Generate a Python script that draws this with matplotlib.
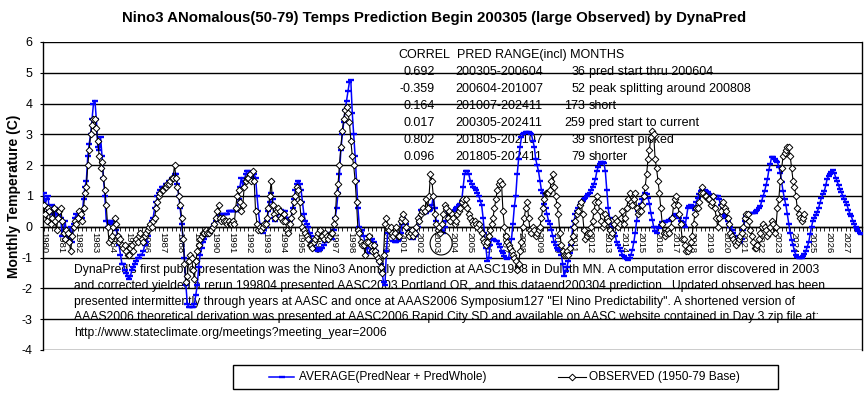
import numpy as np
import matplotlib
matplotlib.use("Agg")
import matplotlib.pyplot as plt
from matplotlib.lines import Line2D
from matplotlib.patches import Rectangle, Ellipse

plt.rcParams['font.family'] = ['Liberation Sans', 'DejaVu Sans']

# ---------------- data (monthly, starting Jan 1980) ----------------
year_labels = [str(y) for y in range(1980, 2028)]

pred_1980s = [
    1.1, 0.7, 0.9, 1.0, 0.5, 0.4, 0.7, 0.3, 0.6, 0.2, 0.4, 0.5,
    0.3, -0.3, -0.1, 0.2, -0.2, -0.4, -0.3, 0.0, -0.5, 0.1, 0.3, 0.4,
    0.3, 0.4, 0.5, 0.3, 0.9, 1.3, 1.5, 2.3, 2.7, 3.0, 3.5, 4.0,
    4.1, 3.5, 2.6, 2.5, 2.9, 2.3, 1.6, 1.0, 0.2, 0.0, 0.2, 0.1,
    0.2, 0.0, 0.1, -0.1, -0.3, -0.6, -0.9, -1.2, -1.2, -1.4, -1.5, -1.6,
    -1.7, -1.6, -1.4, -1.3, -1.2, -1.1, -1.0, -1.0, -0.9, -0.9, -0.8, -0.6,
    -0.5, -0.3, -0.1, 0.0, 0.2, 0.3, 0.6, 0.8, 1.0, 1.1, 1.2, 1.3,
    1.3, 1.3, 1.4, 1.4, 1.5, 1.5, 1.6, 1.6, 1.7, 1.7, 1.4, 1.0,
    0.6, 0.1, -0.4, -1.0, -1.9, -2.5, -2.6, -2.6, -2.6, -2.6, -2.5, -2.2,
    -1.9, -1.3, -0.9, -0.7, -0.5, -0.4, -0.3, -0.25, -0.2, -0.2, -0.1, 0.0,
]
pred_1990s = [
    0.1, 0.2, 0.3, 0.4, 0.4, 0.3, 0.4, 0.4, 0.4, 0.4, 0.5, 0.5,
    0.5, 0.5, 0.5, 0.5, 0.5, 0.9, 1.3, 1.6, 1.3, 1.5, 1.7, 1.8,
    1.8, 1.7, 1.7, 1.6, 1.7, 1.6, 1.0, 0.5, 0.1, -0.1, -0.2, -0.1,
    0.0, 0.2, 0.5, 0.8, 1.1, 0.9, 0.3, 0.2, 0.3, 0.4, 0.5, 0.55,
    0.5, 0.4, 0.5, 0.3, 0.2, 0.2, 0.3, 0.6, 0.9, 1.2, 1.4, 1.5,
    1.4, 1.2, 0.8, 0.4, 0.2, 0.1, 0.0, -0.2, -0.3, -0.5, -0.6, -0.7,
    -0.75, -0.8, -0.75, -0.7, -0.7, -0.6, -0.5, -0.3, -0.2, -0.3, -0.3, -0.4,
    -0.1, 0.3, 0.6, 1.1, 1.7, 2.5, 3.0, 3.4, 3.8, 4.1, 4.4, 4.7,
    4.75, 3.7, 3.0, 2.3, 1.5, 0.6, 0.0, -0.2, -0.1, -0.3, -0.5, -0.7,
    -0.85, -0.85, -0.6, -0.4, -0.5, -0.6, -0.8, -1.0, -1.1, -1.2, -1.5, -1.8,
]
pred_2000s = [
    -1.9, -0.8, -0.2, 0.0, 0.0, -0.2, -0.45, -0.5, -0.5, -0.45, -0.4, -0.2,
    0.1, 0.3, 0.2, 0.1, -0.1, -0.2, -0.3, -0.35, -0.4, -0.3, -0.25, 0.0,
    0.3, 0.55, 0.5, 0.4, 0.45, 0.45, 0.5, 0.5, 0.55, 0.7, 1.0, 0.6,
    0.2, 0.0, -0.1, -0.1, -0.15, -0.2, 0.0, 0.2, 0.5, 0.5, 0.4, 0.4,
    0.5, 0.55, 0.6, 0.65, 0.7, 0.75, 0.85, 1.3, 1.7, 1.8, 1.8, 1.7,
    1.5, 1.4, 1.3, 1.25, 1.2, 1.1, 1.0, 0.85, 0.7, 0.3, -0.2, -0.7,
    -1.1, -1.0, -0.6, -0.4, -0.4, -0.42, -0.45, -0.47, -0.55, -0.65, -0.78, -0.85,
    -0.96, -1.0, -1.05, -1.0, -0.7, -0.4, 0.1, 0.66, 1.0, 1.7, 2.2, 2.6,
    2.9, 3.0, 3.06, 3.07, 3.09, 3.08, 3.06, 3.0, 2.8, 2.6, 2.2, 2.0,
    1.8, 1.5, 1.2, 1.1, 0.75, 0.6, 0.4, 0.2, 0.1, -0.1, -0.3, -0.5,
]
pred_2010s = [
    -0.6, -0.7, -0.75, -0.8, -0.9, -1.2, -1.6, -1.45, -1.3, -1.1, -0.85, -0.6,
    0.0, 0.2, 0.4, 0.5, 0.6, 0.7, 0.8, 0.85, 0.9, 0.95, 1.0, 1.05,
    1.1, 1.2, 1.3, 1.4, 1.55, 1.8, 1.95, 2.05, 2.1, 2.12, 2.07, 1.8,
    1.2, 0.6, 0.3, 0.1, 0.0, -0.2, -0.3, -0.5, -0.6, -0.7, -0.8, -0.9,
    -0.95, -1.0, -1.05, -1.07, -1.0, -0.9, -0.75, -0.5, -0.2, 0.2, 0.5, 0.6,
    0.75, 0.9, 1.0, 1.1, 1.05, 0.95, 0.75, 0.44, 0.23, 0.0, -0.15, -0.2,
    0.0, -0.05, 0.05, 0.15, 0.17, 0.17, 0.2, 0.2, 0.23, 0.25, 0.3, 0.35,
    0.39, 0.4, 0.37, 0.3, 0.2, 0.15, 0.05, 0.0, 0.3, 0.6, 0.68, 0.7,
    0.66, 0.6, 0.55, 0.8, 0.95, 1.05, 1.15, 1.2, 1.2, 1.18, 1.15, 1.12,
    1.08, 1.03, 0.95, 0.95, 1.0, 1.0, 1.0, 0.9, 0.7, 0.5, 0.4, 0.35,
]
pred_2020s = [
    0.3, 0.2, 0.1, 0.0, -0.1, -0.2, -0.3, -0.4, -0.47, -0.52, -0.5, -0.4,
    -0.1, 0.2, 0.35, 0.4, 0.42, 0.44, 0.44, 0.45, 0.46, 0.5, 0.55, 0.6,
    0.66, 0.85, 1.0, 1.15, 1.35, 1.55, 1.85, 2.05, 2.28, 2.25, 2.2, 2.15,
    2.1, 1.95, 1.75, 1.45, 1.15, 0.9, 0.7, 0.4, 0.1, -0.2, -0.42, -0.6,
    -0.8, -0.9, -0.97, -1.0, -1.0, -1.0, -0.95, -0.88, -0.8, -0.65, -0.5, -0.25,
    0.0, 0.2, 0.3, 0.38, 0.48, 0.62, 0.78, 0.95, 1.05, 1.15, 1.35, 1.55,
    1.65, 1.72, 1.78, 1.85, 1.75, 1.6, 1.48, 1.35, 1.22, 1.12, 1.0, 0.9,
    0.8, 0.7, 0.55, 0.42, 0.34, 0.2, 0.1, 0.0, -0.08, -0.15, -0.2, -0.25,
]

obs_1980s = [
    0.7, 0.4, 0.2, 0.6, 0.5, 0.1, 0.3, 0.6, 0.2, -0.1, 0.3, 0.5,
    0.6, 0.2, -0.2, -0.4, -0.1, -0.2, -0.5, -0.8, -0.3, 0.0, 0.2, 0.1,
    0.3, 0.5, 0.4, 0.2, 0.6, 1.1, 1.3, 2.0, 2.5, 3.0, 3.3, 3.5,
    3.5, 3.2, 2.8, 2.3, 1.9, 2.1, 1.6, 1.2, 0.7, 0.0, -0.5, -0.4,
    -0.3, 0.0, 0.3, 0.1, -0.3, -0.5, -0.4, -0.6, -0.7, -0.6, -0.8, -0.9,
    -0.9, -0.7, -0.6, -0.8, -0.5, -0.4, -0.5, -0.3, -0.2, -0.4, -0.5, -0.3,
    -0.2, -0.1, 0.0, 0.1, 0.0, 0.2, 0.3, 0.6, 0.8, 1.0, 1.1, 1.2,
    1.2, 1.3, 1.3, 1.4, 1.4, 1.5, 1.6, 1.6, 2.0, 1.6, 1.3, 1.0,
    0.7, 0.3, -0.4, -1.2, -1.8, -1.6, -1.1, -0.9, -1.0, -1.4, -1.7, -1.1,
    -0.8, -0.6, -0.4, -0.3, -0.2, -0.2, -0.1, -0.2, -0.2, -0.1, -0.1, 0.0,
]
obs_1990s = [
    0.1, 0.3, 0.5, 0.7, 0.3, 0.2, 0.3, 0.2, 0.2, 0.1, 0.2, 0.1,
    0.1, 0.2, 0.1, 0.6, 1.0, 1.2, 0.8, 0.5, 0.7, 1.3, 1.5, 1.6,
    1.6, 1.7, 1.5, 1.8, 1.5, 0.5, 0.1, -0.1, 0.0, -0.1, 0.0, 0.1,
    0.1, 0.3, 0.6, 1.0, 1.5, 0.7, 0.4, 0.3, 0.5, 0.6, 0.5, 0.3,
    0.2, 0.4, 0.2, -0.1, -0.2, 0.1, 0.3, 0.5, 0.8, 1.0, 1.3, 1.2,
    0.8, 0.3, 0.0, -0.1, -0.2, -0.3, -0.4, -0.6, -0.6, -0.7, -0.5, -0.4,
    -0.3, -0.2, -0.1, -0.3, -0.3, -0.4, -0.2, -0.3, -0.4, -0.3, -0.2, -0.2,
    0.1, 0.3, 1.1, 1.4, 2.0, 2.6, 3.1, 3.5, 3.8, 3.9, 3.7, 3.4,
    2.8, 2.3, 2.0, 1.5, 0.8, -0.1, -0.2, -0.5, -0.6, -0.6, -0.9, -0.5,
    -0.5, -0.3, -0.6, -0.8, -0.6, -0.8, -0.9, -1.0, -1.1, -1.3, -1.5, -0.9,
]
obs_2000s = [
    0.1, 0.3, 0.0, -0.1, 0.0, -0.2, -0.3, -0.2, 0.0, -0.3, -0.3, 0.2,
    0.3, 0.4, 0.2, 0.0, -0.2, -0.3, -0.2, -0.1, -0.3, -0.2, 0.0, 0.3,
    0.2, 0.4, 0.5, 0.6, 0.5, 0.9, 0.6, 1.0, 1.7, 1.5, 1.0, 0.4,
    0.1, -0.1, 0.0, -0.2, 0.1, 0.4, 0.7, 0.6, 0.3, 0.5, 0.2, 0.4,
    0.3, 0.1, 0.2, 0.4, 0.5, 0.6, 0.8, 0.9, 0.7, 0.9, 0.6, 0.4,
    0.3, 0.2, 0.1, 0.2, 0.1, 0.0, 0.1, -0.1, -0.2, -0.4, -0.5, -0.6,
    -0.5, -0.3, -0.1, 0.1, 0.3, 0.6, 0.9, 1.2, 1.4, 1.5, 1.4, 0.5,
    0.0, -0.3, -0.5, -0.6, -0.7, -0.8, -0.9, -1.0, -1.1, -1.4, -1.2, -0.8,
    -0.5, 0.0, 0.3, 0.6, 0.8, 0.3, -0.1, -0.2, 0.0, -0.1, -0.3, -0.2,
    -0.1, 0.0, 0.3, 0.6, 0.9, 1.1, 1.1, 1.1, 1.2, 1.5, 1.7, 1.3,
]
obs_2010s = [
    1.0, 0.7, 0.4, -0.2, -0.6, -0.8, -0.9, -0.9, -0.8, -0.9, -0.7, -0.5,
    -0.3, 0.0, 0.2, 0.4, 0.5, 0.7, 0.8, 0.4, -0.1, -0.4, -0.3, -0.2,
    -0.2, 0.0, 0.2, 0.5, 0.8, 1.0, 0.8, 0.5, 0.2, 0.0, 0.1, 0.4,
    0.3, 0.2, -0.1, -0.3, -0.2, 0.1, 0.3, 0.2, 0.0, 0.1, 0.3, 0.5,
    0.1, 0.3, 0.6, 0.9, 1.1, 0.8, 0.7, 0.9, 1.1, 0.6, 0.4, 0.5,
    0.5, 0.7, 1.0, 1.3, 1.7, 2.2, 2.5, 2.9, 3.1, 3.0, 2.2, 1.9,
    1.5, 1.1, 0.6, 0.1, -0.2, -0.3, -0.2, -0.1, -0.2, 0.0, 0.3, 0.7,
    0.9, 1.0, 0.7, 0.4, 0.1, -0.4, -0.4, -0.6, -0.8, -0.8, -0.7, -0.5,
    -0.3, 0.1, 0.4, 0.6, 0.6, 0.8, 1.1, 1.3, 1.1, 1.0, 1.0, 0.9,
    0.9, 0.7, 0.8, 1.0, 0.6, 0.3, 0.0, 0.3, 0.5, 0.7, 0.8, 0.6,
]
obs_2020s = [
    0.5, 0.3, 0.1, -0.2, -0.3, -0.4, -0.5, -0.6, -0.5, -0.4, -0.3, -0.2,
    0.0, 0.3, 0.4, 0.4, 0.2, -0.1, -0.3, -0.5, -0.7, -0.7, -0.6, -0.4,
    -0.2, 0.0, 0.1, 0.0, -0.1, -0.3, -0.2, 0.0, 0.2, 0.1, -0.2, 0.0,
    0.6, 0.9, 1.5, 1.9, 2.3, 2.4, 2.5, 2.6, 2.6, 2.3, 1.9, 1.5,
    1.3, 1.0, 0.6, 0.4, 0.3, 0.2, 0.3, 0.4,
]

pred = np.array(pred_1980s + pred_1990s + pred_2000s + pred_2010s + pred_2020s)
obs = np.array(obs_1980s + obs_1990s + obs_2000s + obs_2010s + obs_2020s)

title = "Nino3 ANomalous(50-79) Temps Prediction Begin 200305 (large Observed) by DynaPred"
ylabel = "Monthly Temperature (C)"
legend_labels = ["AVERAGE(PredNear + PredWhole)", "OBSERVED (1950-79 Base)"]

tbl_correl = ["0.692", "-0.359", "0.164", "0.017", "0.802", "0.096"]
tbl_range = ["200305-200604", "200604-201007", "201007-202411",
             "200305-202411", "201805-202107", "201805-202411"]
tbl_months = ["36", "52", "173", "259", "39", "79"]
tbl_desc = ["pred start thru 200604", "peak splitting around 200808", "short",
            "pred start to current", "shortest picked", "shorter"]

notes = [
    "DynaPred's first public presentation was the Nino3 Anomaly prediction at AASC1998 in Duluth MN. A computation error discovered in 2003",
    "and corrected yielded a rerun 199804 presented AASC2003 Portland OR, and this dataend200304 prediction.  Updated observed has been",
    "presented intermittently through years at AASC and once at AAAS2006 Symposium127 \"El Nino Predictability\". A shortened version of",
    "AAAS2006 theoretical derivation was presented at AASC2006 Rapid City SD and available on AASC website contained in Day 3 zip file at:",
    "http://www.stateclimate.org/meetings?meeting_year=2006",
]

# ---------------- figure ----------------
W, H = 868, 395
fig = plt.figure(figsize=(W / 100, H / 100), dpi=100)
fig.patch.set_facecolor('white')


def fx(px):
    return px / W


def fy(py):
    return 1 - py / H


L, R, T, B = 43, 862, 42, 350
ax = fig.add_axes([fx(L), fy(B), (R - L) / W, (B - T) / H])

BLUE = '#0000FF'
x_pred = np.arange(len(pred))
x_obs = np.arange(len(obs))

ax.plot(x_pred, pred, color=BLUE, lw=1.1, marker='_', ms=3.8, mew=1.7,
        zorder=3)
ax.plot(x_obs, obs, color='black', lw=0.8, marker='D', ms=3.4, mew=0.7,
        mfc='white', mec='black', zorder=4)

ax.set_xlim(-0.5, 575.5)
ax.set_ylim(-4, 6)

for v in range(-4, 7):
    ax.axhline(v, color='black', lw=1.0, zorder=1)

ax.set_yticks(range(-4, 7))
ax.set_yticklabels([str(v) for v in range(-4, 7)], fontsize=9)
ax.tick_params(axis='y', direction='out', length=2.5, width=0.8, pad=5)

ax.spines['bottom'].set_position(('data', 0))
ax.spines['top'].set_visible(False)
for s in ['left', 'right', 'bottom']:
    ax.spines[s].set_linewidth(1.0)
    ax.spines[s].set_zorder(2)

ax.set_xticks(np.arange(0, len(year_labels) * 12, 12))
ax.set_xticklabels(year_labels, rotation=270, fontsize=6.8)
ax.set_xticks(np.arange(0, 576, 3), minor=True)
ax.tick_params(axis='x', which='both', direction='out', length=3, width=0.6, pad=0.5)

ax.set_ylabel(ylabel, fontsize=10, fontweight='bold')
ax.yaxis.set_label_coords((21 - L) / (R - L), 0.5)

# ellipse annotation around 2003
ax.add_patch(Ellipse((279.5, -0.54), 15.5, 0.75, fill=False, ec='black',
                     lw=0.8, zorder=5))

fig.text(0.5, fy(18), title, ha='center', va='center', fontsize=10.8,
         fontweight='bold')

# correlation table
tfs = 9
ax.text(fx(398), fy(55), "CORREL", transform=fig.transFigure, fontsize=tfs,
        va='center', ha='left', zorder=0.8)
ax.text(fx(457), fy(55), "PRED RANGE(incl) MONTHS", transform=fig.transFigure,
        fontsize=tfs, va='center', ha='left', zorder=0.8)
for i in range(len(tbl_correl)):
    yy = fy(72.3 + i * 17.0)
    ax.text(fx(435), yy, tbl_correl[i], transform=fig.transFigure, fontsize=tfs,
            va='center', ha='right', zorder=0.8)
    ax.text(fx(455), yy, tbl_range[i], transform=fig.transFigure, fontsize=tfs,
            va='center', ha='left', zorder=0.8)
    ax.text(fx(585), yy, tbl_months[i], transform=fig.transFigure, fontsize=tfs,
            va='center', ha='right', zorder=0.8)
    ax.text(fx(589), yy, tbl_desc[i], transform=fig.transFigure, fontsize=tfs,
            va='center', ha='left', zorder=0.8)

# notes paragraph
for i, line in enumerate(notes):
    ax.text(fx(74), fy(270 + i * 15.75), line, transform=fig.transFigure,
            fontsize=8.75, va='center', ha='left', zorder=0.8)

# legend (drawn manually to match layout)
fig.patches.append(Rectangle((fx(233), fy(389)), (778 - 233) / W, 24 / H,
                             transform=fig.transFigure, fill=False,
                             ec='black', lw=1.0))
ly = fy(377)
fig.lines.append(Line2D([fx(269), fx(281.5), fx(294)], [ly, ly, ly],
                        transform=fig.transFigure, color=BLUE, lw=1.1,
                        marker='_', ms=3.8, mew=1.7, markevery=[1]))
fig.text(fx(299), ly, legend_labels[0], fontsize=8.6, va='center', ha='left')
fig.lines.append(Line2D([fx(558), fx(572), fx(586)], [ly, ly, ly],
                        transform=fig.transFigure, color='black', lw=0.8,
                        marker='D', ms=3.4, mew=0.7, mfc='white',
                        markevery=[1]))
fig.text(fx(589), ly, legend_labels[1], fontsize=8.6, va='center', ha='left')

fig.savefig('out.png', dpi=100)
